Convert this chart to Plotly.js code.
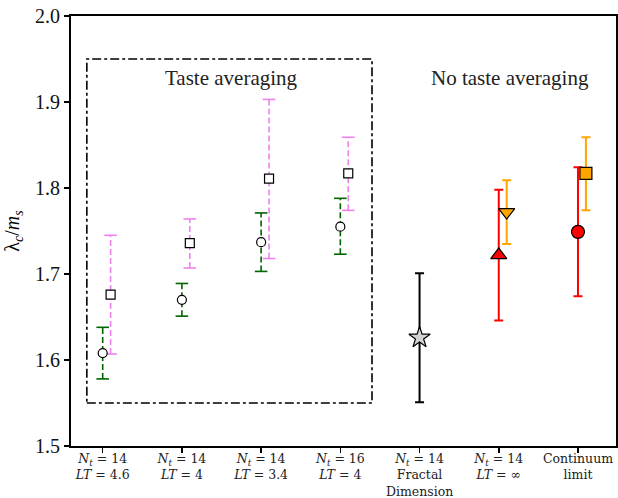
<!DOCTYPE html>
<html>
<head>
<meta charset="utf-8">
<script src="https://cdn.plot.ly/plotly-3.0.1.min.js"></script>
<style>html,body{margin:0;padding:0;background:#fff;}#chart{width:618px;height:498px;}</style>
</head>
<body>
<div id="chart"></div>
<script>
// ---- data ----
const tickLabels = [
  "<i>N</i><sub><i>t</i></sub> = 14<br><i>LT</i> = 4.6",
  "<i>N</i><sub><i>t</i></sub> = 14<br><i>LT</i> = 4",
  "<i>N</i><sub><i>t</i></sub> = 14<br><i>LT</i> = 3.4",
  "<i>N</i><sub><i>t</i></sub> = 16<br><i>LT</i> = 4",
  "<i>N</i><sub><i>t</i></sub> = 14<br>Fractal<br>Dimension",
  "<i>N</i><sub><i>t</i></sub> = 14<br><i>LT</i> = ∞",
  "Continuum<br>limit"
];
// taste averaging, circles (green)
const circIdx = [0, 1, 2, 3];
const circVal = [1.608, 1.670, 1.737, 1.755];
const circHi  = [1.638, 1.689, 1.771, 1.788];
const circLo  = [1.578, 1.651, 1.703, 1.723];
// taste averaging, squares (violet)
const sqIdx = [0, 1, 2, 3];
const sqVal = [1.676, 1.736, 1.811, 1.817];
const sqHi  = [1.745, 1.764, 1.903, 1.859];
const sqLo  = [1.607, 1.707, 1.718, 1.774];
// fractal dimension (star)
const starIdx = [4];
const starVal = [1.626];
const starHi  = [1.701];
const starLo  = [1.551];
// red triangle (LT=inf)
const triIdx = [5];
const triVal = [1.722];
const triHi  = [1.798];
const triLo  = [1.646];
// orange inverted triangle
const itriIdx = [5];
const itriVal = [1.772];
const itriHi  = [1.809];
const itriLo  = [1.735];
// red circle (continuum)
const rcIdx = [6];
const rcVal = [1.749];
const rcHi  = [1.824];
const rcLo  = [1.674];
// orange square (continuum)
const osIdx = [6];
const osVal = [1.817];
const osHi  = [1.859];
const osLo  = [1.774];

// ---- styles ----
const OFF = 0.1;
const FONT = '"Liberation Serif", "Times New Roman", serif';
const TICKFONT = '"DejaVu Serif", serif';

function dashedErr(idx, off, lo, hi, color) {
  const xs = [], ys = [], cx = [], cy = [];
  idx.forEach((k, i) => {
    xs.push(k + off, k + off, null); ys.push(lo[i], hi[i], null);
    cx.push(k + off, k + off); cy.push(lo[i], hi[i]);
  });
  return [
    {x: xs, y: ys, mode: 'lines', line: {color: color, width: 1.6, dash: '6px,3px'}, hoverinfo: 'skip'},
    {x: cx, y: cy, mode: 'markers', marker: {symbol: 'line-ew', size: 9, line: {color: color, width: 1.6}}, hoverinfo: 'skip'}
  ];
}
function solidPt(idx, off, val, lo, hi, color, sym, size, fill) {
  return {
    x: idx.map(k => k + off), y: val, mode: 'markers',
    error_y: {type: 'data', symmetric: false,
      array: hi.map((h, i) => h - val[i]), arrayminus: lo.map((l, i) => val[i] - l),
      color: color, thickness: 2, width: 4.5},
    marker: {symbol: sym, size: size, color: fill, line: {color: 'black', width: 1.2}}
  };
}

const traces = [
  ...dashedErr(circIdx, 0, circLo, circHi, '#006400'),
  ...dashedErr(sqIdx, OFF, sqLo, sqHi, '#EE82EE'),
  {x: circIdx, y: circVal, mode: 'markers', marker: {symbol: 'circle', size: 9, color: 'white', line: {color: 'black', width: 1.2}}},
  {x: sqIdx.map(k => k + OFF), y: sqVal, mode: 'markers', marker: {symbol: 'square', size: 9, color: 'white', line: {color: 'black', width: 1.2}}},
  solidPt(starIdx, 0, starVal, starLo, starHi, 'black', 'star', 16, '#D3D3D3'),
  solidPt(triIdx, 0, triVal, triLo, triHi, '#FF0000', 'triangle-up', 14, '#FF0000'),
  solidPt(itriIdx, OFF, itriVal, itriLo, itriHi, '#FFA500', 'triangle-down', 14, '#FFA500'),
  solidPt(rcIdx, 0, rcVal, rcLo, rcHi, '#FF0000', 'circle', 13, '#FF0000'),
  solidPt(osIdx, OFF, osVal, osLo, osHi, '#FFA500', 'square', 12, '#FFA500')
];

const layout = {
  width: 618, height: 498,
  margin: {l: 71, r: 1.5, t: 16, b: 52},
  showlegend: false,
  paper_bgcolor: 'white', plot_bgcolor: 'white',
  font: {family: FONT, color: 'black'},
  xaxis: {
    range: [-0.4, 6.48], tickmode: 'array', tickvals: tickLabels.map((_, i) => i), ticktext: tickLabels,
    showgrid: false, zeroline: false, showline: true, mirror: true, linecolor: 'black', linewidth: 2,
    ticks: 'outside', ticklen: 5, tickwidth: 1.5, tickcolor: 'black', ticklabelstandoff: -5,
    tickfont: {family: TICKFONT, size: 12.5, color: '#222'}
  },
  yaxis: {
    range: [1.5, 2.0], tickvals: [1.5, 1.6, 1.7, 1.8, 1.9, 2.0], ticktext: ['1.5','1.6','1.7','1.8','1.9','2.0'],
    showgrid: false, zeroline: false, showline: true, mirror: true, linecolor: 'black', linewidth: 2,
    ticks: 'outside', ticklen: 5, tickwidth: 1.5, tickcolor: 'black', tickfont: {family: FONT, size: 20, color: '#111'},
    title: {text: 'λ<sub><i>c</i></sub>/<i>m</i><sub><i>s</i></sub>', font: {family: FONT, size: 20}, standoff: 10}
  },
  shapes: [{type: 'rect', xref: 'x', yref: 'y', x0: -0.2, x1: 3.4, y0: 1.55, y1: 1.95,
    line: {color: 'black', width: 1.6, dash: 'dashdot'}}],
  annotations: [
    {x: 1.63, y: 1.928, xref: 'x', yref: 'y', text: 'Taste averaging', showarrow: false, font: {family: FONT, size: 21, color: '#222'}},
    {x: 5.14, y: 1.928, xref: 'x', yref: 'y', text: 'No taste averaging', showarrow: false, font: {family: FONT, size: 21, color: '#222'}}
  ]
};

Plotly.newPlot('chart', traces, layout, {staticPlot: true, displayModeBar: false});
</script>
</body>
</html>
